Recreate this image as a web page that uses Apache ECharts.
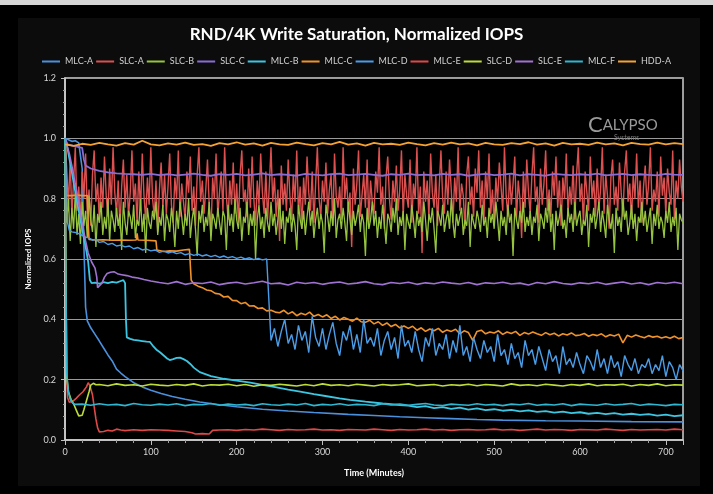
<!DOCTYPE html>
<html>
<head>
<meta charset="utf-8">
<script src="https://cdn.jsdelivr.net/npm/echarts@6/dist/echarts.min.js"></script>
<style>
  html, body { margin: 0; padding: 0; background: #000; }
  #chart { width: 713px; height: 494px; }
</style>
</head>
<body>
<div id="chart"></div>
<script>
// axis ranges
const xMax = 720
const yMax = 1.2

const seriesNames = ['MLC-A', 'SLC-A', 'SLC-B', 'SLC-C', 'MLC-B', 'MLC-C', 'MLC-D', 'MLC-E', 'SLC-D', 'SLC-E', 'MLC-F', 'HDD-A']
const seriesColors = ['#4a90dc', '#dc5050', '#96c43f', '#8a6cd6', '#3cc6e2', '#f0922b', '#4b9de8', '#e04848', '#bcdc3a', '#a072d2', '#2fb6d0', '#f5a232']

// MLC-A: stays near 1.0, falls hard around 20 min, then smooth decay
const mlcA = [[0,1.0],[4,0.995],[8,0.99],[12,0.992],[16,0.985],[18,0.98],[20,0.9],[22,0.65],[24,0.44],[26,0.395],[30,0.372],[35,0.35],[40,0.328],[45,0.305],[50,0.282],[55,0.262],[60,0.235],[65,0.222],[70,0.21],[75,0.2],[80,0.19],[90,0.176],[100,0.165],[112,0.154],[125,0.144],[140,0.135],[157,0.126],[180,0.117],[200,0.11],[230,0.102],[260,0.096],[290,0.091],[330,0.085],[360,0.081],[390,0.077],[420,0.074],[450,0.071],[480,0.068],[510,0.066],[560,0.064],[600,0.063],[660,0.061],[720,0.06]]

// SLC-A / SLC-B: noisy bands, one sample every 2 minutes
const slcAValues = [
  1.00,0.90,0.78,0.93,0.74,0.86,0.97,0.76,0.84,0.72,
  0.89,0.80,0.95,0.75,0.83,0.71,0.88,0.96,0.79,0.85,
  0.73,0.87,0.77,0.94,0.81,0.74,0.90,0.78,0.97,0.82,
  0.75,0.86,0.70,0.84,0.93,0.77,0.88,0.74,0.82,0.96,
  0.79,0.85,0.72,0.89,0.76,0.95,0.81,0.73,0.87,0.78,
  0.97,0.80,0.74,0.86,0.69,0.83,0.92,0.77,0.88,0.75,
  0.84,0.95,0.78,0.72,0.87,0.80,0.96,0.74,0.85,0.79,
  0.73,0.89,0.82,0.94,0.76,0.84,0.71,0.88,0.97,0.79,
  0.86,0.75,0.83,0.93,0.78,0.68,0.87,0.80,0.95,0.74,
  0.82,0.89,0.76,0.97,0.81,0.73,0.86,0.78,0.92,0.75,
  0.85,0.72,0.88,0.96,0.79,0.83,0.74,0.90,0.77,0.94,
  0.80,0.71,0.86,0.78,0.95,0.82,0.75,0.89,0.73,0.84,
  0.97,0.79,0.87,0.74,0.83,0.66,0.91,0.78,0.85,0.76,
  0.93,0.81,0.73,0.88,0.79,0.96,0.75,0.84,0.70,0.87,
  0.78,0.94,0.82,0.76,0.89,0.72,0.85,0.97,0.80,0.74,
  0.86,0.79,0.92,0.75,0.83,0.88,0.71,0.95,0.81,0.77,
  0.84,0.73,0.97,0.80,0.87,0.76,0.82,0.64,0.90,0.78,
  0.85,0.96,0.74,0.81,0.88,0.77,0.93,0.72,0.86,0.79,
  0.75,0.89,0.82,0.97,0.78,0.84,0.70,0.87,0.94,0.80,
  0.73,0.86,0.79,0.91,0.76,0.83,0.96,0.74,0.88,0.81,
  0.77,0.93,0.72,0.85,0.80,0.97,0.75,0.84,0.62,0.89,
  0.79,0.86,0.74,0.95,0.82,0.77,0.88,0.71,0.84,0.96,
  0.80,0.75,0.89,0.78,0.93,0.83,0.72,0.87,0.79,0.97,
  0.76,0.85,0.81,0.70,0.88,0.94,0.78,0.84,0.74,0.90,
  0.82,0.96,0.77,0.86,0.73,0.89,0.80,0.95,0.75,0.83,
  0.71,0.87,0.79,0.92,0.84,0.76,0.97,0.81,0.74,0.88,
  0.78,0.85,0.94,0.73,0.86,0.80,0.67,0.89,0.77,0.93,
  0.82,0.75,0.88,0.97,0.79,0.84,0.72,0.90,0.78,0.85,
  0.96,0.76,0.83,0.74,0.89,0.81,0.94,0.77,0.86,0.71,
  0.87,0.80,0.95,0.75,0.84,0.78,0.91,0.73,0.88,0.97,
  0.79,0.85,0.72,0.89,0.82,0.76,0.94,0.80,0.86,0.74,
  0.90,0.77,0.83,0.97,0.75,0.88,0.81,0.70,0.87,0.93,
  0.78,0.84,0.76,0.92,0.82,0.74,0.89,0.96,0.79,0.85,
  0.73,0.88,0.80,0.95,0.77,0.86,0.72,0.84,0.91,0.78,
  0.85,0.97,0.76,0.83,0.79,0.89,0.74,0.94,0.81,0.87,
  0.75,0.90,0.82,0.78,0.96,0.73,0.86,0.80,0.93,0.84,
  0.79
]
const slcBValues = [
  1.00,0.72,0.80,0.66,0.77,0.70,0.82,0.68,0.75,0.65,
  0.79,0.71,0.76,0.67,0.81,0.73,0.69,0.78,0.64,0.75,
  0.72,0.79,0.68,0.74,0.70,0.80,0.66,0.76,0.73,0.69,
  0.77,0.71,0.75,0.63,0.79,0.72,0.68,0.76,0.74,0.70,
  0.78,0.67,0.73,0.71,0.80,0.69,0.75,0.62,0.77,0.72,
  0.70,0.76,0.73,0.79,0.68,0.74,0.71,0.78,0.66,0.75,
  0.73,0.69,0.77,0.72,0.64,0.76,0.70,0.79,0.74,0.68,
  0.75,0.71,0.80,0.67,0.73,0.77,0.70,0.61,0.76,0.72,
  0.78,0.69,0.74,0.71,0.79,0.66,0.75,0.73,0.70,0.77,
  0.72,0.68,0.76,0.74,0.63,0.78,0.71,0.75,0.69,0.80,
  0.73,0.70,0.77,0.66,0.74,0.72,0.79,0.68,0.75,0.71,
  0.76,0.60,0.73,0.78,0.70,0.74,0.67,0.77,0.72,0.69,
  0.79,0.71,0.75,0.68,0.73,0.80,0.70,0.76,0.65,0.74,
  0.72,0.77,0.69,0.75,0.71,0.63,0.78,0.73,0.70,0.76,
  0.68,0.74,0.79,0.71,0.76,0.67,0.73,0.77,0.70,0.75,
  0.72,0.62,0.78,0.74,0.69,0.76,0.71,0.80,0.67,0.73,
  0.75,0.70,0.77,0.72,0.66,0.79,0.73,0.68,0.76,0.71,
  0.74,0.78,0.69,0.75,0.72,0.61,0.77,0.70,0.73,0.79,
  0.71,0.76,0.67,0.74,0.70,0.78,0.72,0.65,0.75,0.73,
  0.69,0.77,0.72,0.80,0.68,0.74,0.71,0.76,0.63,0.75,
  0.72,0.70,0.78,0.73,0.67,0.76,0.71,0.74,0.69,0.79,
  0.73,0.66,0.75,0.72,0.77,0.70,0.62,0.76,0.74,0.71,
  0.78,0.69,0.73,0.76,0.70,0.80,0.72,0.67,0.75,0.71,
  0.74,0.77,0.68,0.73,0.71,0.79,0.64,0.75,0.72,0.70,
  0.76,0.73,0.69,0.78,0.71,0.74,0.67,0.77,0.72,0.75,
  0.70,0.79,0.73,0.66,0.76,0.71,0.74,0.68,0.78,0.72,
  0.75,0.61,0.77,0.73,0.70,0.76,0.72,0.79,0.69,0.74,
  0.71,0.76,0.68,0.74,0.72,0.78,0.66,0.75,0.73,0.70,
  0.77,0.72,0.80,0.69,0.75,0.63,0.76,0.71,0.74,0.78,
  0.70,0.73,0.67,0.77,0.72,0.75,0.69,0.79,0.71,0.74,
  0.76,0.68,0.73,0.71,0.78,0.64,0.75,0.72,0.77,0.70,
  0.74,0.79,0.69,0.76,0.72,0.67,0.78,0.73,0.70,0.75,
  0.62,0.77,0.71,0.74,0.69,0.80,0.73,0.76,0.68,0.72,
  0.78,0.70,0.75,0.66,0.74,0.72,0.79,0.71,0.76,0.69,
  0.73,0.77,0.65,0.75,0.71,0.78,0.70,0.74,0.72,0.67,
  0.76,0.72,0.79,0.69,0.74,0.71,0.77,0.63,0.75,0.73,
  0.72
]

// SLC-C: ~0.88 plateau
const slcCHead = [[0,1.0],[3,0.98],[10,0.975],[15,0.972],[20,0.968],[22,0.93],[24,0.91],[30,0.9],[40,0.892],[50,0.887],[60,0.884],[70,0.882],[80,0.881]]
const slcCTail = [
  0.879,0.882,0.878,0.881,0.877,0.88,0.883,0.879,0.876,0.881,
  0.879,0.882,0.877,0.88,0.884,0.878,0.881,0.879,0.876,0.882,
  0.88,0.877,0.881,0.883,0.878,0.88,0.882,0.879,0.876,0.881,
  0.879,0.883,0.878,0.88,0.877,0.882,0.879,0.881,0.876,0.88,
  0.882,0.878,0.88,0.883,0.877,0.881,0.879,0.876,0.882,0.88,
  0.878,0.881,0.879,0.883,0.877,0.88,0.882,0.878,0.881,0.879,
  0.877,0.882,0.88,0.879
]

// MLC-B: diagonal fall, 0.52 shelf, step at ~71 min, long decay
const mlcB = [[0,1.0],[2,0.98],[6,0.92],[10,0.855],[14,0.79],[18,0.73],[22,0.67],[25,0.625],[27,0.59],[28,0.56],[29,0.53],[31,0.52],[35,0.522],[40,0.518],[45,0.523],[50,0.52],[55,0.524],[60,0.522],[65,0.527],[68,0.53],[70,0.52],[71,0.4],[72,0.34],[76,0.335],[80,0.332],[85,0.33],[90,0.328],[95,0.326],[99,0.325],[103,0.31],[107,0.298],[111,0.29],[115,0.28],[119,0.27],[122,0.265],[126,0.268],[130,0.272],[134,0.273],[138,0.268],[142,0.262],[146,0.252],[150,0.24],[157,0.225],[170,0.212],[185,0.203],[200,0.197],[216,0.19],[230,0.183],[245,0.175],[260,0.167],[274,0.16],[290,0.152],[305,0.145],[320,0.138],[332,0.133],[350,0.127],[370,0.121],[390,0.116],[400,0.114],[410,0.109],[420,0.112],[430,0.106],[440,0.109],[450,0.103],[460,0.107],[470,0.101],[480,0.105],[490,0.099],[500,0.102],[510,0.097],[520,0.1],[530,0.095],[540,0.098],[550,0.093],[560,0.096],[570,0.091],[580,0.094],[590,0.089],[600,0.092],[610,0.087],[620,0.09],[630,0.086],[640,0.089],[650,0.084],[660,0.087],[670,0.083],[680,0.086],[690,0.081],[700,0.084],[710,0.079],[720,0.082]]

// MLC-C: 0.81 shelf, 0.66 shelf, 0.63 shelf, then decay
const mlcCHead = [[0,1.0],[1,0.95],[2,0.81],[8,0.81],[14,0.812],[20,0.81],[26,0.81],[27,0.72],[28,0.665],[35,0.663],[45,0.664],[55,0.662],[65,0.663],[75,0.662],[83,0.663],[84,0.685],[85,0.663],[95,0.662],[106,0.66],[107,0.63],[108,0.624],[115,0.625],[122,0.627],[130,0.626],[138,0.63],[145,0.632],[146,0.58],[147,0.53],[150,0.518],[155,0.51],[160,0.505],[165,0.497],[170,0.495],[175,0.486],[180,0.484],[185,0.474],[190,0.476],[195,0.463],[200,0.462],[205,0.452],[210,0.456],[215,0.444],[220,0.445],[225,0.436],[230,0.438],[235,0.428],[240,0.43],[245,0.424]]
const mlcCTail = [
  0.422,0.43,0.418,0.425,0.412,0.42,0.415,0.424,0.41,0.416,
  0.408,0.415,0.403,0.41,0.398,0.406,0.4,0.394,0.404,0.392,
  0.39,0.397,0.385,0.392,0.38,0.388,0.376,0.383,0.372,0.378,
  0.37,0.377,0.364,0.372,0.36,0.368,0.362,0.37,0.357,0.365,
  0.36,0.367,0.352,0.362,0.356,0.33,0.36,0.364,0.352,0.358,
  0.355,0.362,0.35,0.358,0.353,0.36,0.347,0.356,0.351,0.358,
  0.352,0.347,0.356,0.349,0.354,0.345,0.352,0.348,0.355,0.346,
  0.348,0.353,0.344,0.35,0.346,0.352,0.342,0.349,0.345,0.351,
  0.322,0.347,0.341,0.348,0.343,0.339,0.346,0.341,0.344,0.338,
  0.342,0.337,0.344,0.336,0.34
]

// MLC-D: slow slide to 0.6, drop at ~237 min, noisy tail (every 4 min)
const mlcDHead = [[0,1.0],[1,0.93],[2,0.8],[3,0.72],[5,0.695],[8,0.69],[12,0.688],[16,0.684],[20,0.678],[24,0.672],[28,0.67],[32,0.662],[36,0.666],[40,0.655],[45,0.658],[50,0.648],[55,0.652],[60,0.643],[65,0.646],[70,0.64],[75,0.643],[80,0.634],[85,0.638],[90,0.63],[95,0.633],[100,0.627],[105,0.63],[110,0.622],[115,0.626],[120,0.62],[125,0.624],[130,0.618],[135,0.621],[140,0.614],[145,0.618],[150,0.612],[155,0.616],[160,0.61],[165,0.614],[170,0.608],[175,0.612],[180,0.605],[185,0.61],[190,0.604],[195,0.608],[200,0.602],[205,0.606],[210,0.6],[215,0.604],[220,0.598],[225,0.602],[230,0.597],[235,0.6],[237,0.598]]
const mlcDTail = [
  0.33,0.37,0.31,0.36,0.40,0.32,0.35,0.30,0.38,0.33,
  0.36,0.29,0.41,0.34,0.31,0.37,0.30,0.35,0.39,0.32,
  0.28,0.36,0.33,0.38,0.30,0.35,0.29,0.40,0.32,0.34,
  0.31,0.37,0.28,0.33,0.36,0.30,0.34,0.27,0.38,0.31,
  0.33,0.29,0.36,0.30,0.26,0.34,0.31,0.37,0.28,0.32,
  0.30,0.35,0.27,0.33,0.29,0.38,0.28,0.31,0.26,0.34,
  0.30,0.27,0.33,0.29,0.31,0.26,0.35,0.28,0.30,0.25,
  0.32,0.27,0.29,0.24,0.33,0.28,0.30,0.25,0.31,0.27,
  0.23,0.30,0.26,0.28,0.22,0.31,0.25,0.27,0.24,0.29,
  0.25,0.22,0.28,0.26,0.23,0.30,0.24,0.27,0.22,0.28,
  0.24,0.26,0.21,0.28,0.25,0.23,0.27,0.22,0.25,0.24,
  0.27,0.22,0.25,0.23,0.28,0.21,0.26,0.24,0.20,0.25,
  0.23
]

// MLC-E: early hump, then ~0.03
const mlcEHead = [[0,1.0],[1,0.6],[2,0.2],[3,0.14],[5,0.125],[7,0.12],[9,0.128],[11,0.124],[13,0.138],[15,0.132],[17,0.15],[19,0.145],[21,0.16],[23,0.168],[25,0.176],[27,0.19],[28,0.196],[29,0.18],[30,0.175],[31,0.18],[32,0.15],[34,0.11],[36,0.07],[38,0.04],[40,0.027],[45,0.028],[50,0.032],[55,0.03],[60,0.036],[65,0.033],[70,0.031],[80,0.034],[90,0.032],[100,0.034],[110,0.033],[120,0.032],[130,0.03],[140,0.028],[148,0.024],[152,0.02],[160,0.021],[168,0.02],[172,0.032],[180,0.033]]
const mlcETail = [
  0.034,0.032,0.035,0.033,0.036,0.034,0.032,0.035,0.033,0.034,
  0.036,0.033,0.034,0.032,0.035,0.034,0.033,0.036,0.034,0.032,
  0.035,0.033,0.034,0.036,0.033,0.035,0.032,0.034,0.035,0.033,
  0.034,0.036,0.033,0.035,0.032,0.034,0.036,0.033,0.035,0.034,
  0.032,0.035,0.034,0.033,0.036,0.034,0.032,0.035,0.033,0.034,
  0.035,0.033,0.036,0.034
]

// SLC-D: early dip, then ~0.18
const slcDHead = [[0,1.0],[1,0.55],[2,0.21],[4,0.16],[7,0.135],[10,0.12],[13,0.1],[16,0.08],[18,0.075],[20,0.082],[22,0.1],[25,0.13],[28,0.16],[30,0.182],[33,0.188],[36,0.183]]
const slcDTail = [
  0.184,0.18,0.186,0.181,0.183,0.179,0.185,0.182,0.18,0.184,
  0.181,0.186,0.179,0.183,0.182,0.185,0.18,0.184,0.178,0.183,
  0.181,0.185,0.182,0.179,0.184,0.18,0.186,0.181,0.183,0.18,
  0.185,0.182,0.179,0.184,0.181,0.183,0.186,0.18,0.182,0.184,
  0.179,0.183,0.181,0.185,0.18,0.184,0.182,0.179,0.186,0.181,
  0.183,0.18,0.185,0.182,0.179,0.184,0.181,0.186,0.18,0.183,
  0.182,0.185,0.179,0.184,0.181,0.186,0.18,0.183,0.182
]

// SLC-E: falls to ~0.5, small rebound, then ~0.52
const slcEHead = [[0,1.0],[5,0.95],[10,0.88],[15,0.8],[20,0.72],[24,0.66],[27,0.62],[31,0.59],[35,0.57],[37,0.54],[38,0.505],[40,0.5],[43,0.52],[46,0.54],[49,0.552],[53,0.556],[57,0.558],[62,0.55],[66,0.548],[72,0.545],[78,0.54],[85,0.537],[92,0.532],[100,0.527]]
const slcETail = [
  0.522,0.518,0.525,0.516,0.521,0.519,0.524,0.515,0.52,0.523,
  0.517,0.521,0.526,0.518,0.52,0.514,0.523,0.519,0.522,0.516,
  0.521,0.524,0.517,0.52,0.525,0.518,0.515,0.522,0.519,0.523,
  0.516,0.521,0.518,0.524,0.52,0.517,0.522,0.515,0.521,0.519,
  0.523,0.517,0.52,0.514,0.522,0.518,0.525,0.519,0.516,0.521,
  0.518,0.523,0.516,0.52,0.524,0.517,0.521,0.515,0.522,0.519,
  0.523,0.518
]

// MLC-F: immediate drop to ~0.117
const mlcFHead = [[0,1.0],[1,0.55],[2,0.22],[4,0.16],[6,0.135],[9,0.122],[12,0.118]]
const mlcFTail = [
  0.119,0.115,0.12,0.116,0.118,0.114,0.121,0.117,0.115,0.119,
  0.116,0.12,0.114,0.118,0.117,0.121,0.115,0.119,0.116,0.118,
  0.114,0.12,0.117,0.115,0.119,0.116,0.121,0.114,0.118,0.116,
  0.12,0.115,0.118,0.117,0.114,0.12,0.116,0.119,0.115,0.118,
  0.121,0.116,0.114,0.119,0.117,0.115,0.12,0.116,0.118,0.114,
  0.119,0.117,0.121,0.115,0.118,0.116,0.12,0.114,0.119,0.117,
  0.115,0.12,0.116,0.118,0.121,0.115,0.119,0.117,0.114,0.118,
  0.117
]

// HDD-A: flat ~0.98, every 10 minutes
const hddAValues = [
  0.98,0.975,0.982,0.978,0.985,0.98,0.976,0.984,0.979,0.992,0.98,
  0.977,0.983,0.979,0.986,0.978,0.981,0.975,0.984,0.98,0.987,
  0.979,0.983,0.976,0.985,0.98,0.978,0.986,0.981,0.977,0.984,
  0.98,0.988,0.979,0.983,0.976,0.985,0.98,0.982,0.978,0.986,
  0.981,0.977,0.984,0.979,0.986,0.98,0.983,0.977,0.985,0.98,
  0.978,0.984,0.981,0.987,0.979,0.983,0.976,0.985,0.98,0.982,
  0.978,0.986,0.98,0.983,0.977,0.985,0.981,0.979,0.986,0.98,
  0.984,0.981
]

const toPairs = (values, start, step) => values.map((v, i) => [start + i * step, v])

const seriesData = [
  mlcA,
  toPairs(slcAValues, 0, 2),
  toPairs(slcBValues, 0, 2),
  slcCHead.concat(toPairs(slcCTail, 90, 10)),
  mlcB,
  mlcCHead.concat(toPairs(mlcCTail, 250, 5)),
  mlcDHead.concat(toPairs(mlcDTail, 240, 4)),
  mlcEHead.concat(toPairs(mlcETail, 190, 10)),
  slcDHead.concat(toPairs(slcDTail, 40, 10)),
  slcEHead.concat(toPairs(slcETail, 110, 10)),
  mlcFHead.concat(toPairs(mlcFTail, 20, 10)),
  toPairs(hddAValues, 0, 10)
]
const lineWidths = [1.6, 1.4, 1.3, 1.8, 1.8, 1.6, 1.4, 1.6, 1.6, 1.6, 1.6, 1.8]

const chart = echarts.init(document.getElementById('chart'))
chart.setOption({
  animation: false,
  backgroundColor: '#000',
  textStyle: { fontFamily: 'Lato' },
  graphic: [
    { type: 'rect', z: -10, shape: { x: 0, y: 0, width: 713, height: 5 }, style: { fill: '#d6d6d6' } },
    { type: 'rect', z: -10, shape: { x: 18, y: 18, width: 682, height: 468 }, style: { fill: '#0c0c0c' } },
    {
      type: 'text', left: 588, top: 114, z: 1,
      style: {
        text: '{c|C}{r|ALYPSO}',
        rich: {
          c: { fontSize: 22, fontFamily: 'Lato', fill: '#9a9a9a' },
          r: { fontSize: 15, fontFamily: 'Lato', fill: '#9a9a9a' }
        }
      }
    },
    { type: 'text', left: 614, top: 134, z: 1, style: { text: 'Systems', fontSize: 7, fontFamily: 'Lato', fill: '#7a7a7a' } }
  ],
  title: {
    text: 'RND/4K Write Saturation, Normalized IOPS',
    left: 'center',
    top: 21,
    textStyle: { color: '#ffffff', fontSize: 17, fontWeight: 'bold', fontFamily: 'Lato' }
  },
  legend: {
    data: seriesNames,
    top: 52,
    left: 'center',
    icon: 'rect',
    itemWidth: 18,
    itemHeight: 2,
    itemGap: 3,
    textStyle: { color: '#d0d0d0', fontSize: 9, fontFamily: 'Lato' }
  },
  grid: {
    left: 65, right: 30, top: 78, bottom: 54,
    show: true, backgroundColor: '#000', borderColor: '#d0d0d0', borderWidth: 1.5
  },
  xAxis: {
    type: 'value',
    min: 0, max: xMax, interval: 100,
    name: 'Time (Minutes)',
    nameLocation: 'middle',
    nameGap: 29,
    nameTextStyle: { color: '#ffffff', fontSize: 9, fontWeight: 'bold' },
    axisLine: { lineStyle: { color: '#d0d0d0', width: 1.5 } },
    axisTick: { length: 5, lineStyle: { color: '#c0c0c0' } },
    minorTick: { show: true, splitNumber: 5, length: 3, lineStyle: { color: '#a0a0a0' } },
    axisLabel: { color: '#d8d8d8', fontSize: 9, margin: 8, showMaxLabel: false },
    splitLine: { show: false }
  },
  yAxis: {
    type: 'value',
    min: 0, max: yMax, interval: 0.2,
    name: 'Normalized IOPS',
    nameLocation: 'middle',
    nameGap: 31,
    nameRotate: 90,
    nameTextStyle: { color: '#ffffff', fontSize: 8, fontWeight: 'bold' },
    axisLine: { show: true, lineStyle: { color: '#d0d0d0', width: 1.5 } },
    axisTick: { show: true, length: 4, lineStyle: { color: '#c0c0c0' } },
    minorTick: { show: true, splitNumber: 5, length: 2, lineStyle: { color: '#a0a0a0' } },
    axisLabel: { color: '#d8d8d8', fontSize: 9, margin: 9, formatter: v => v.toFixed(1) },
    splitLine: { show: true, lineStyle: { color: '#9a9a9a', width: 1 } }
  },
  series: seriesNames.map((name, i) => ({
    name,
    type: 'line',
    data: seriesData[i],
    showSymbol: false,
    symbol: 'none',
    color: seriesColors[i],
    lineStyle: { width: lineWidths[i], color: seriesColors[i] }
  }))
})
</script>
</body>
</html>
